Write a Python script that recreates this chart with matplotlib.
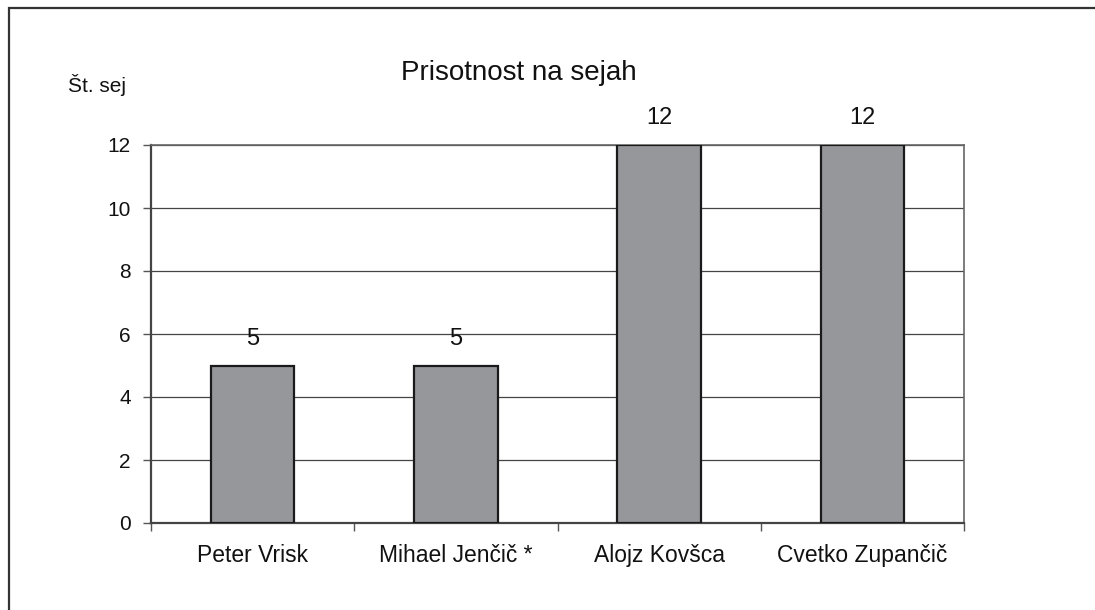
import matplotlib
matplotlib.use("Agg")
import matplotlib.pyplot as plt
from matplotlib.patches import Rectangle

categories = ["Peter Vrisk", "Mihael Jenčič *", "Alojz Kovšca", "Cvetko Zupančič"]
values = [5, 5, 12, 12]
yticks = [0, 2, 4, 6, 8, 10, 12]

plt.rcParams['font.family'] = ['Liberation Sans', 'DejaVu Sans']

fig = plt.figure(figsize=(10.95, 6.10), dpi=100)
ax = fig.add_axes([151/1095, 1 - 523/610, (964 - 151)/1095, (523 - 145)/610])

x = list(range(len(categories)))
bars = ax.bar(x, values, width=0.41, color='#96979b', edgecolor='#1a1a1a', linewidth=1.6, zorder=3)

ax.set_xlim(-0.5, len(categories) - 0.5)
ax.set_ylim(0, 12)
ax.set_yticks(yticks)
ax.set_yticklabels([str(v) for v in yticks])
ax.yaxis.grid(True, color='#444444', linewidth=0.9, zorder=0)
ax.set_axisbelow(True)

# category ticks at boundaries, labels centered
ax.set_xticks([i - 0.5 for i in range(len(categories) + 1)])
ax.set_xticklabels([])
ax.set_xticks(x, minor=True)
ax.set_xticklabels(categories, minor=True)
ax.tick_params(axis='x', which='major', length=6, width=1.0, color='#555555', direction='out')
ax.tick_params(axis='x', which='minor', length=0, pad=15, labelsize=16.5, labelcolor='#111111')
ax.tick_params(axis='y', length=6, width=1.0, color='#555555', pad=8.5, labelsize=15, labelcolor='#111111')

for s in ['left', 'bottom']:
    ax.spines[s].set_color('#444444')
    ax.spines[s].set_linewidth(1.6)
for s in ['right', 'top']:
    ax.spines[s].set_color('#666666')
    ax.spines[s].set_linewidth(1.2)

for xi, v in zip(x, values):
    ax.annotate(str(v), (xi, v), xytext=(0, 14.8), textcoords='offset points',
                ha='center', va='baseline', fontsize=17, color='#111111', zorder=4)

fig.text(519/1095, 1 - 80/610, "Prisotnost na sejah", ha='center', va='baseline', fontsize=20, color='#111111')
fig.text(68/1095, 1 - 92/610, "Št. sej", ha='left', va='baseline', fontsize=15, color='#111111')

# outer border (clipped at right and bottom)
fig.patches.append(Rectangle((9/1095, -0.05), 1.2, 1 - 8/610 + 0.05, transform=fig.transFigure,
                             fill=False, edgecolor='#333333', linewidth=1.6))

fig.savefig("out.png", dpi=100)
